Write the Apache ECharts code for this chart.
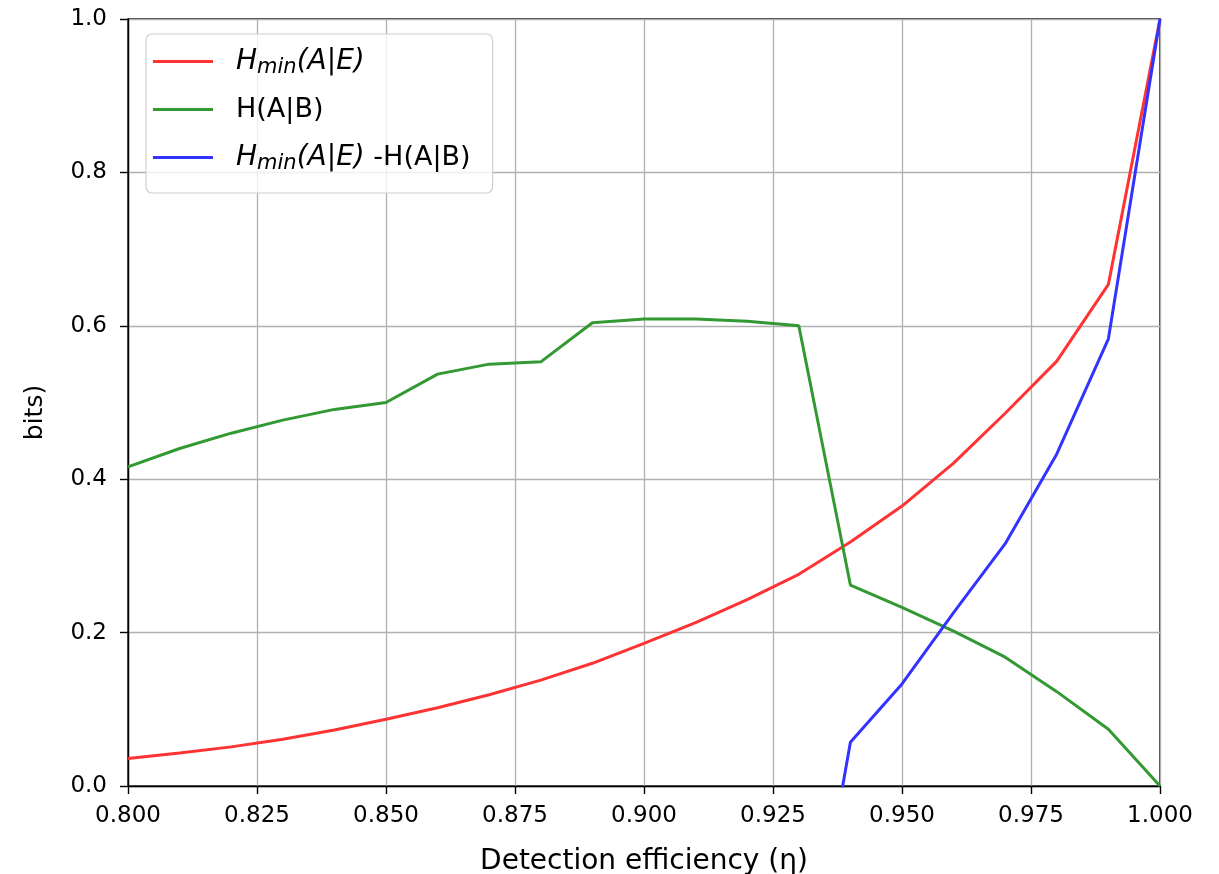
<!DOCTYPE html>
<html><head><meta charset="utf-8">
<script src="https://cdn.jsdelivr.net/npm/echarts@6/dist/echarts.min.js"></script>
<style>html,body{margin:0;padding:0;background:#fff}#c{width:1219px;height:874px}</style>
</head><body><div id="c"></div>
<script>
const etaRG = [0.80,0.81,0.82,0.83,0.84,0.85,0.86,0.87,0.88,0.89,0.90,0.91,0.92,0.93,0.94,0.95,0.96,0.97,0.98,0.99,1.00];
const hminAE = [0.036,0.043,0.051,0.061,0.073,0.087,0.102,0.119,0.138,0.160,0.186,0.213,0.243,0.276,0.318,0.365,0.421,0.486,0.554,0.654,1.000];
const hAB = [0.416,0.440,0.460,0.477,0.491,0.500,0.537,0.550,0.553,0.604,0.609,0.609,0.606,0.600,0.262,0.233,0.202,0.168,0.123,0.074,0.000];
const etaBlue = [0.93,0.94,0.95,0.96,0.97,0.98,0.99,1.00];
const diffVals = [-0.324,0.057,0.133,0.226,0.316,0.433,0.583,1.000];
const xTicks = [0.800,0.825,0.850,0.875,0.900,0.925,0.950,0.975,1.000];
const yTicks = [0.0,0.2,0.4,0.6,0.8,1.0];
const names = ['Hmin(A|E)','H(A|B)','Hmin(A|E) -H(A|B)'];

const F = 'DejaVu Sans';
const pair = (xs, ys) => xs.map((x,i)=>[x,ys[i]]);
const chart = echarts.init(document.getElementById('c'));
chart.setOption({
  animation:false,
  backgroundColor:'#fff',
  textStyle:{fontFamily:F},
  grid:{left:128,right:59,top:19,bottom:88,containLabel:false,outerBoundsMode:'none',show:true,borderColor:'#000',borderWidth:1.4,backgroundColor:'transparent'},
  xAxis:{type:'value',min:0.8,max:1.0,interval:0.025,
    name:'Detection efficiency (η)',nameLocation:'middle',nameGap:62,
    nameTextStyle:{fontFamily:F,fontSize:28,color:'#000'},
    axisLine:{show:true,onZero:false,lineStyle:{color:'#000',width:1.4}},
    axisTick:{show:true,length:8,lineStyle:{color:'#000',width:1.4}},
    axisLabel:{fontFamily:F,fontSize:23,color:'#000',margin:19,formatter:v=>v.toFixed(3)},
    splitLine:{show:true,lineStyle:{color:'#b0b0b0',width:1.3}}},
  yAxis:{type:'value',min:0,max:1,interval:0.2,
    name:'bits)',nameLocation:'middle',nameGap:80,nameRotate:90,
    nameTextStyle:{fontFamily:F,fontSize:25,color:'#000',padding:[0,20,0,0]},
    axisLine:{show:true,onZero:false,lineStyle:{color:'#000',width:1.4}},
    axisTick:{show:true,length:8,lineStyle:{color:'#000',width:1.4}},
    axisLabel:{fontFamily:F,fontSize:23,color:'#000',margin:21,formatter:v=>v.toFixed(1)},
    splitLine:{show:true,lineStyle:{color:'#b0b0b0',width:1.3}}},
  legend:{orient:'vertical',left:146,top:34,
    backgroundColor:'rgba(255,255,255,0.8)',borderColor:'#d0d0d0',borderWidth:1.2,borderRadius:6,
    padding:[11,22,19,7],itemWidth:60,itemHeight:3,itemGap:18,icon:'rect',
    data:names,
    formatter:function(n){
      if(n===names[0]) return '{i|H}{s|min}{i|(A|E)}';
      if(n===names[1]) return '{n|H(A|B)}';
      return '{i|H}{s|min}{i|(A|E)}{n| -H(A|B)}';
    },
    textStyle:{fontFamily:F,fontSize:27,color:'#000',padding:[0,0,0,18],
      rich:{
        i:{fontFamily:F,fontSize:28,fontStyle:'italic',color:'#000',lineHeight:32,verticalAlign:'middle'},
        s:{fontFamily:F,fontSize:21,fontStyle:'italic',color:'#000',lineHeight:32,padding:[12,0,0,0],verticalAlign:'middle'},
        n:{fontFamily:F,fontSize:27,color:'#000',lineHeight:32,verticalAlign:'middle'}
      }}},
  series:[
    {name:names[0],type:'line',data:pair(etaRG,hminAE),symbol:'none',lineStyle:{color:'#ff3333',width:3},itemStyle:{color:'#ff3333'},z:3},
    {name:names[1],type:'line',data:pair(etaRG,hAB),symbol:'none',lineStyle:{color:'#339933',width:3},itemStyle:{color:'#339933'},z:3},
    {name:names[2],type:'line',data:pair(etaBlue,diffVals),symbol:'none',clip:true,lineStyle:{color:'#3333ff',width:3},itemStyle:{color:'#3333ff'},z:3}
  ]
});
</script></body></html>
